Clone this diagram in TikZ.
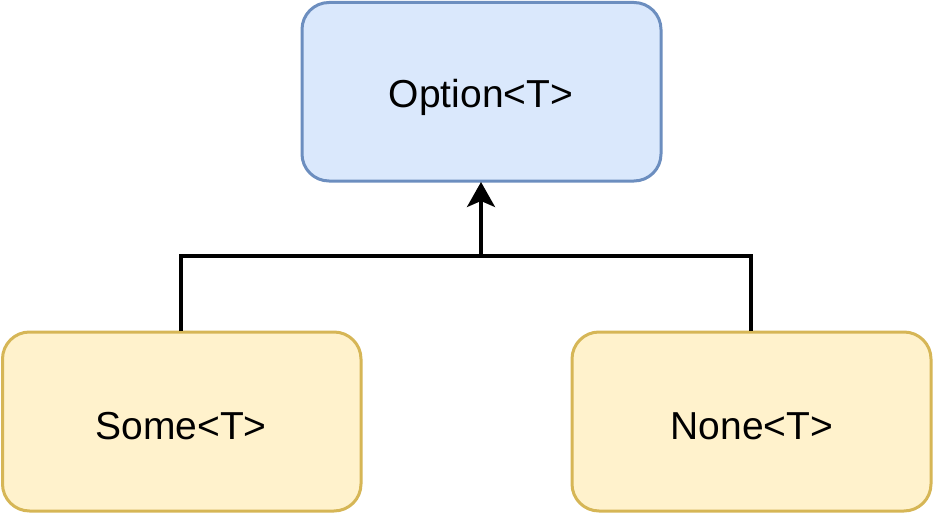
\documentclass[tikz,border=0pt]{standalone}
\usepackage{fontspec}
\setmainfont{Liberation Sans}
\usetikzlibrary{arrows.meta}
\definecolor{bluefill}{HTML}{DAE8FC}
\definecolor{bluedraw}{HTML}{6C8EBF}
\definecolor{yellowfill}{HTML}{FFF2CC}
\definecolor{yellowdraw}{HTML}{D6B656}
\tikzset{
  box/.style={rounded corners=27pt, line width=3pt, inner sep=0pt},
  bluebox/.style={box, draw=bluedraw, fill=bluefill},
  yellowbox/.style={box, draw=yellowdraw, fill=yellowfill},
  lbl/.style={font=\fontsize{39}{46}\selectfont, text=black},
  conn/.style={line width=3.3pt, black}
}
\begin{document}
\begin{tikzpicture}[x=1pt,y=-1pt]
\useasboundingbox (0,0) rectangle (933,513);
\draw[bluebox] (302,2.5) rectangle (661,181);
\node[lbl] (opt) at (481,97) {Option<T>};
\coordinate (optbot) at (481,182);
\draw[yellowbox] (2.5,332) rectangle (361,511);
\node[lbl] (some) at (181,426) {Some<T>};
\draw[yellowbox] (572,332) rectangle (931,511);
\node[lbl] (none) at (752,426) {None<T>};
\coordinate (sometop) at (181,331);
\coordinate (nonetop) at (751,331);
\coordinate (mid) at (481,256);
\draw[conn] (sometop) |- (mid) -| (nonetop);
\draw[conn, -{Stealth[length=25pt,width=28pt,inset=6pt]}] (mid) -- (optbot);
\end{tikzpicture}
\end{document}
